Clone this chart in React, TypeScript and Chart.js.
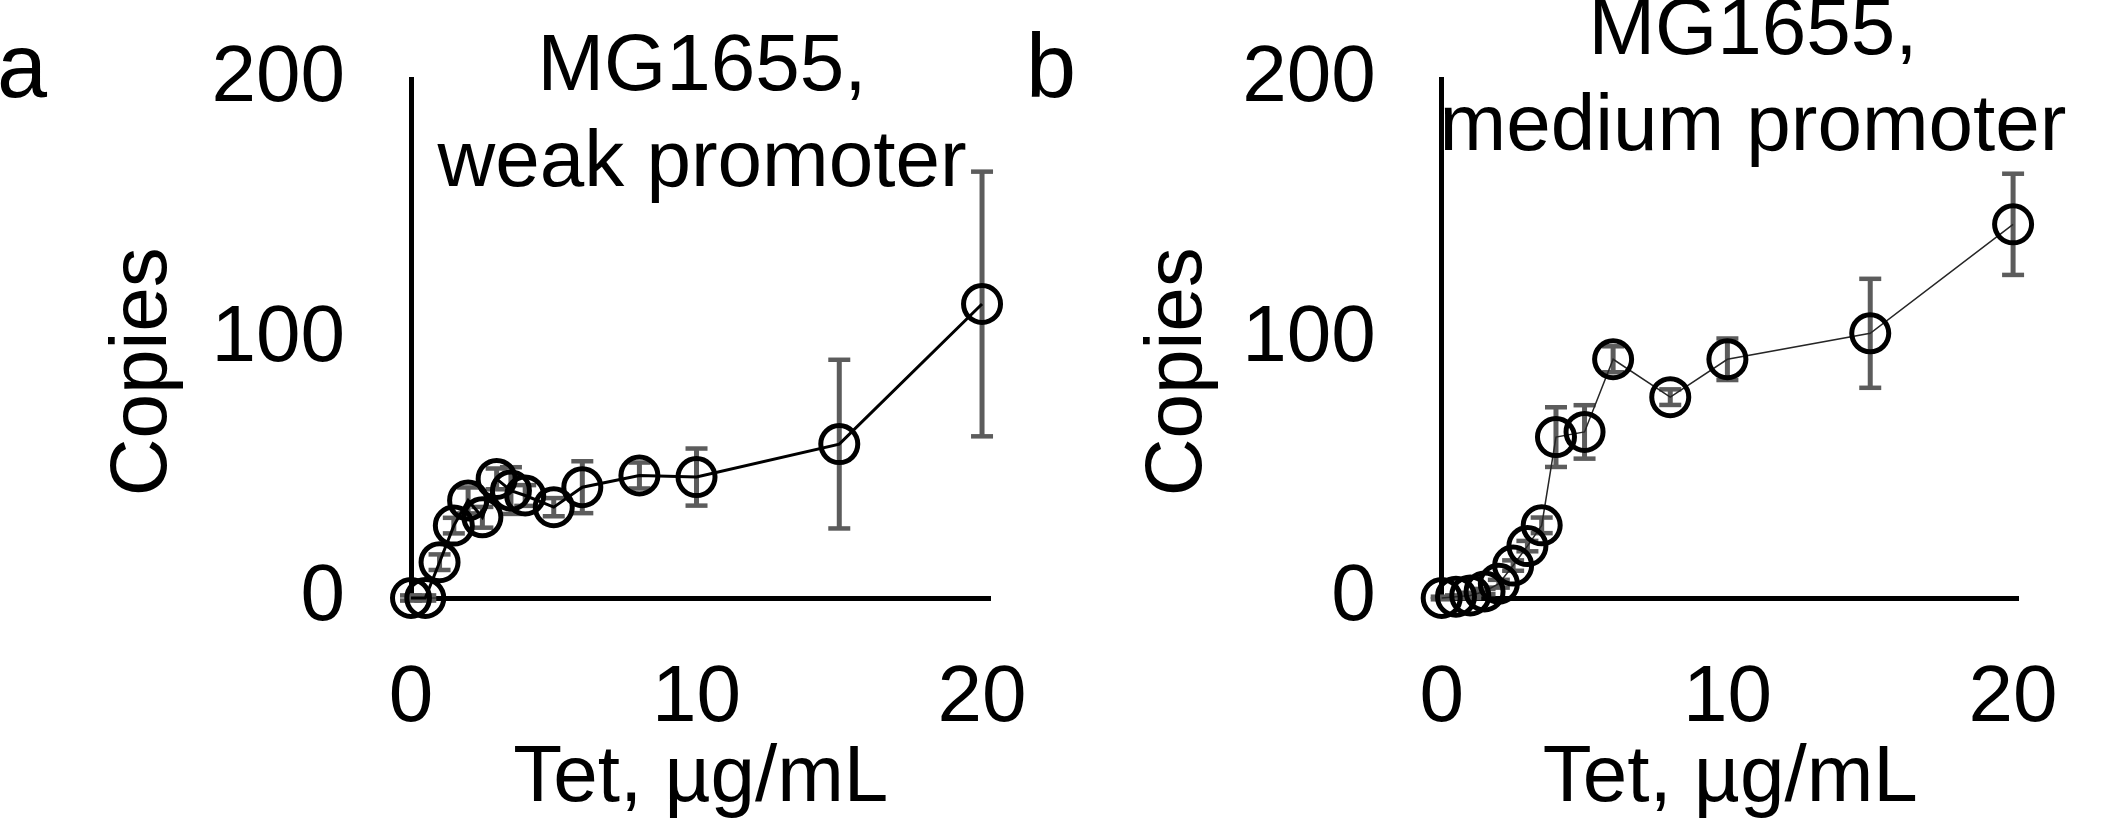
import React, { useEffect, useRef } from 'react';
import { Chart, registerables } from 'chart.js';

Chart.register(...registerables);

// ---------------- data ----------------
const tetDoses = [0, 0.5, 1, 1.5, 2, 2.5, 3, 3.5, 4, 5, 6, 8, 10, 15, 20];
const weakCopies = [0, 0, 13.8, 27.9, 37.6, 31.1, 45.9, 41.4, 39.5, 35, 42.7, 47.2, 46.6, 59.3, 113.3];
const weakErr = [1, 1, 3, 3, 5, 4, 4, 9, 4, 3.5, 10, 5, 11, 32.5, 51];
const mediumCopies = [0, 0.5, 1, 2.5, 5.5, 12.5, 20, 28, 62, 64, 92, 77.4, 92, 102, 144];
const mediumErr = [0.5, 0.5, 1, 1, 1.5, 2, 2, 3, 11.5, 10.3, 5, 3, 8, 21, 19.5];
const xTickValues = [0, 10, 20];
const yTickValues = [0, 100, 200];
const titleWeak = ['MG1655,', 'weak promoter'];
const titleMedium = ['MG1655,', 'medium promoter'];
const xAxisTitle = 'Tet, µg/mL';
const yAxisTitle = 'Copies';
const panelLetters = ['a', 'b'];

// ---------------- styles / layout ----------------
const FONT = '"Liberation Sans", Arial, Helvetica, sans-serif';
const ERR_COLOR = '#5c5c5c';

const panelA = {
  canvasLeft: 0, width: 1404, yWidth: 411, rightWidth: 413.4, xMax: 20.3,
  titleTop: 20, titleBottom: -133, yTitlePad: 104, lineColor: '#000', lineWidth: 3,
};
const panelB = {
  canvasLeft: 1000, width: 1506, yWidth: 441.7, rightWidth: 487.2, xMax: 20.2,
  titleTop: -16, titleBottom: -97, yTitlePad: 138.5, lineColor: '#262626', lineWidth: 1.5,
};

Chart.defaults.font.family = FONT;
Chart.defaults.color = '#000';

function buildConfig(values: number[], errs: number[], title: string[], p: any): any {
  const points = tetDoses.map((x, i) => ({ x, y: values[i] }));
  const errPts: any[] = [];
  tetDoses.forEach((x, i) => {
    errPts.push({ x, y: values[i] - errs[i] });
    errPts.push({ x, y: values[i] + errs[i] });
    errPts.push({ x, y: null });
  });
  const tickFont = { family: FONT, size: 80, lineHeight: 1, weight: 'normal' };
  return {
    type: 'line',
    data: {
      datasets: [
        {
          data: points,
          borderColor: p.lineColor,
          borderWidth: p.lineWidth,
          pointStyle: 'circle',
          pointRadius: 18.5,
          pointBorderWidth: 5,
          pointBorderColor: '#000',
          pointBackgroundColor: 'rgba(0,0,0,0)',
          fill: false,
          tension: 0,
          clip: false,
          order: 1,
          xAxisID: 'x',
          yAxisID: 'y',
        },
        {
          data: errPts,
          borderColor: ERR_COLOR,
          borderWidth: 5,
          pointStyle: 'line',
          pointRadius: 11,
          pointBorderWidth: 4.5,
          pointBorderColor: ERR_COLOR,
          pointBackgroundColor: ERR_COLOR,
          spanGaps: false,
          fill: false,
          clip: false,
          order: 2,
          xAxisID: 'x',
          yAxisID: 'y',
        },
      ],
    },
    options: {
      responsive: false,
      animation: false,
      devicePixelRatio: 1,
      layout: { padding: 0 },
      events: [],
      plugins: {
        legend: { display: false },
        tooltip: { enabled: false },
        title: {
          display: true,
          text: title,
          color: '#000',
          align: 'center',
          fullSize: true,
          font: { family: FONT, size: 80, lineHeight: 1.2, weight: 'normal' },
          padding: { top: p.titleTop, bottom: p.titleBottom },
        },
      },
      scales: {
        x: {
          type: 'linear',
          position: 'bottom',
          min: 0,
          max: p.xMax,
          grid: { display: false, drawTicks: false },
          border: { display: true, color: '#000', width: 5 },
          ticks: { color: '#000', font: tickFont, padding: 61, maxRotation: 0, autoSkip: false },
          afterBuildTicks: (s: any) => { s.ticks = xTickValues.map((v) => ({ value: v })); },
          afterFit: (s: any) => {
            s.height = 227;
            s.paddingLeft = 0;
            s.paddingRight = 0;
          },
          title: {
            display: true,
            text: xAxisTitle,
            color: '#000',
            font: tickFont,
            padding: { top: 0, bottom: 6 },
          },
        },
        y: {
          type: 'linear',
          position: 'left',
          min: 0,
          max: 200,
          grid: { display: false, drawTicks: false },
          border: { display: true, color: '#000', width: 5 },
          ticks: { color: '#000', font: tickFont, padding: 66 },
          afterBuildTicks: (s: any) => { s.ticks = yTickValues.map((v) => ({ value: v })); },
          afterFit: (s: any) => {
            s.width = p.yWidth;
            s.paddingTop = 0;
            s.paddingBottom = 0;
          },
          title: {
            display: true,
            text: yAxisTitle + '   ',
            color: '#000',
            font: tickFont,
            padding: { top: p.yTitlePad, bottom: 0 },
          },
        },
        yR: {
          type: 'linear',
          position: 'right',
          display: true,
          grid: { display: false, drawTicks: false },
          border: { display: false },
          ticks: { display: false },
          afterFit: (s: any) => {
            s.width = p.rightWidth;
            s.paddingTop = 0;
            s.paddingBottom = 0;
          },
        },
      },
    },
  };
}

function Panel({ values, errs, title, p }: any) {
  const ref = useRef<HTMLCanvasElement | null>(null);
  useEffect(() => {
    if (!ref.current) return;
    const chart = new Chart(ref.current, buildConfig(values, errs, title, p));
    return () => chart.destroy();
  }, []);
  return (
    <canvas
      ref={ref}
      width={p.width}
      height={825}
      style={{ position: 'absolute', left: p.canvasLeft, top: 0, width: p.width, height: 825 }}
    />
  );
}

const letterStyle: React.CSSProperties = {
  position: 'absolute',
  top: 21,
  fontFamily: FONT,
  fontSize: 90,
  lineHeight: '90px',
  color: '#000',
  margin: 0,
};

export default function App() {
  return (
    <div
      style={{
        position: 'absolute',
        left: 0,
        top: 0,
        width: 2115,
        height: 825,
        overflow: 'hidden',
        background: '#fff',
      }}
    >
      <Panel values={weakCopies} errs={weakErr} title={titleWeak} p={panelA} />
      <Panel values={mediumCopies} errs={mediumErr} title={titleMedium} p={panelB} />
      <div style={{ ...letterStyle, left: -3 }}>{panelLetters[0]}</div>
      <div style={{ ...letterStyle, left: 1026 }}>{panelLetters[1]}</div>
    </div>
  );
}
